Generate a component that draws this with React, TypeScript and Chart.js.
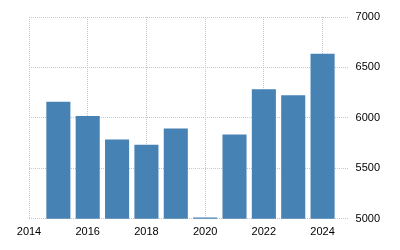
import React, { useEffect, useRef } from "react";
import { Chart, registerables } from "chart.js";

Chart.register(...registerables);

const years = [2015, 2016, 2017, 2018, 2019, 2020, 2021, 2022, 2023, 2024];
const values = [6160, 6020, 5785, 5735, 5895, 5013, 5835, 6285, 6225, 6635];
const xTicks = [2014, 2016, 2018, 2020, 2022, 2024];
const yTicks = [5000, 5500, 6000, 6500, 7000];

export default function App() {
  const ref = useRef<HTMLCanvasElement | null>(null);
  useEffect(() => {
    if (!ref.current) return;
    const chart = new Chart(ref.current, {
      type: "bar",
      data: {
        datasets: [
          {
            data: years.map((y, i) => ({ x: y, y: values[i] })),
            backgroundColor: "#4682b4",
            borderWidth: 0,
            barPercentage: 0.82,
            categoryPercentage: 1,
          },
        ],
      },
      options: {
        animation: false,
        responsive: false,
        maintainAspectRatio: false,
        layout: { padding: { left: 29, right: 12, top: 17, bottom: 4 } },
        plugins: { legend: { display: false }, tooltip: { enabled: false } },
        scales: {
          x: {
            type: "linear",
            offset: false,
            min: 2014,
            max: 2024.85,
            afterBuildTicks: (scale: any) => {
              scale.ticks = xTicks.map((v) => ({ value: v }));
            },
            grid: { color: "#c8c8c8", drawTicks: false, lineWidth: 1, offset: false },
            border: { display: false, dash: [1, 1] },
            ticks: {
              padding: 7,
              color: "#000",
              font: { family: "Liberation Sans", size: 11 },
              maxRotation: 0,
              callback: (v: any) => String(v),
            },
          },
          y: {
            position: "right",
            min: 5000,
            max: 7000,
            afterBuildTicks: (scale: any) => {
              scale.ticks = yTicks.map((v) => ({ value: v }));
            },
            grid: { color: "#c8c8c8", drawTicks: false, lineWidth: 1 },
            border: { display: false, dash: [1, 1] },
            ticks: {
              padding: 8,
              color: "#000",
              font: { family: "Liberation Sans", size: 11 },
              callback: (v: any) => String(v),
            },
          },
        },
      },
    });
    return () => chart.destroy();
  }, []);
  return (
    <div style={{ position: "fixed", left: 0, top: 0, width: 400, height: 250, background: "#fff" }}>
      <canvas ref={ref} width={400} height={250} style={{ width: 400, height: 250 }} />
    </div>
  );
}
